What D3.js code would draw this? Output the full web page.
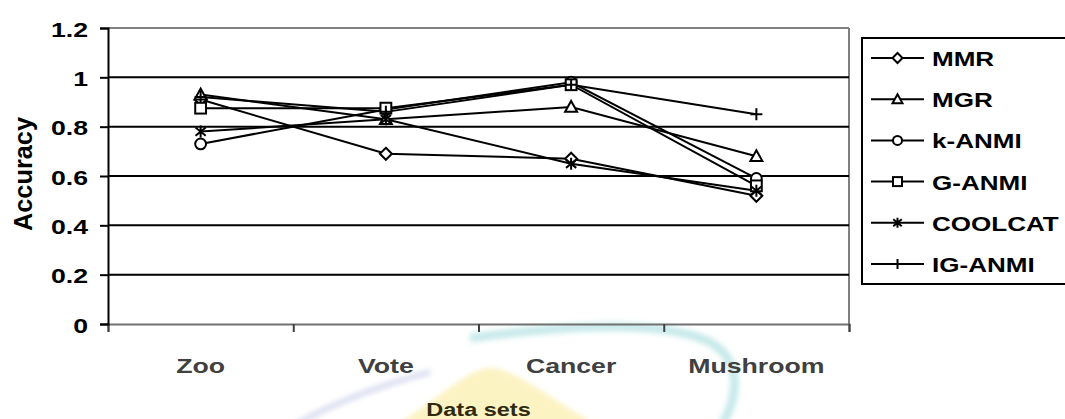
<!DOCTYPE html>
<html>
<head>
<meta charset="utf-8">
<script src="https://cdn.jsdelivr.net/npm/d3@7"></script>
<style>
  html, body { margin: 0; padding: 0; background: #fff; }
  svg { display: block; }
  text { font-family: Arial, "Liberation Sans", Helvetica, sans-serif; font-weight: bold; }
</style>
</head>
<body>
<svg id="chart" width="1065" height="419"></svg>
<script>
// Data sets and clustering accuracy per method
const categories = ["Zoo", "Vote", "Cancer", "Mushroom"];
const seriesNames = ["MMR", "MGR", "k-ANMI", "G-ANMI", "COOLCAT", "IG-ANMI"];
const mmr     = [0.91, 0.69, 0.67, 0.52];
const mgr     = [0.93, 0.83, 0.88, 0.68];
const kAnmi   = [0.73, 0.87, 0.98, 0.59];
const gAnmi   = [0.875, 0.875, 0.97, 0.56];
const coolcat = [0.78, 0.83, 0.65, 0.54];
const igAnmi  = [0.92, 0.86, 0.97, 0.85];
const yTicks = [0, 0.2, 0.4, 0.6, 0.8, 1, 1.2];
const yTickLabels = ["0", "0.2", "0.4", "0.6", "0.8", "1", "1.2"];
const markerTypes = ["diamond", "triangle", "circle", "square", "star", "plus"];

const seriesValues = [mmr, mgr, kAnmi, gAnmi, coolcat, igAnmi];
const series = seriesNames.map((name, i) => ({ name, values: seriesValues[i], marker: markerTypes[i] }));

const svg = d3.select("#chart");
const SX = 1.27; // horizontal stretch of lettering

const plotLeft = 108, plotRight = 849, plotTop = 28, plotBottom = 324;

const x = d3.scaleBand().domain(categories).range([plotLeft, plotRight]);
const y = d3.scaleLinear().domain([0, 1.2]).range([plotBottom, plotTop]);
const cx = c => x(c) + x.bandwidth() / 2;

// faint background swooshes
const defs = svg.append("defs");
defs.append("filter").attr("id", "soft")
  .append("feGaussianBlur").attr("stdDeviation", 2.5);
const deco = svg.append("g").attr("filter", "url(#soft)");
deco.append("path")
  .attr("d", "M392,428 C440,398 468,368 490,368 C515,368 552,400 602,428 Z")
  .attr("fill", "#fbf1b8").attr("opacity", 0.85);
deco.append("path")
  .attr("d", "M470,338 C560,326 650,320 700,338 C740,352 742,390 722,425")
  .attr("fill", "none").attr("stroke", "#bfe6e8").attr("stroke-width", 9).attr("opacity", 0.85);
deco.append("path")
  .attr("d", "M295,425 C330,405 370,388 430,372")
  .attr("fill", "none").attr("stroke", "#d4d8ee").attr("stroke-width", 6).attr("opacity", 0.8);

// plot frame: top and right edges in grey
svg.append("line").attr("x1", plotLeft).attr("x2", plotRight).attr("y1", y(1.2)).attr("y2", y(1.2))
  .attr("stroke", "#808080").attr("stroke-width", 2);
svg.append("line").attr("x1", plotRight).attr("x2", plotRight).attr("y1", y(1.2)).attr("y2", y(0))
  .attr("stroke", "#808080").attr("stroke-width", 2);

// horizontal gridlines
svg.append("g").selectAll("line")
  .data(yTicks.filter(v => v > 0 && v < 1.2))
  .join("line")
  .attr("x1", plotLeft).attr("x2", plotRight)
  .attr("y1", d => y(d)).attr("y2", d => y(d))
  .attr("stroke", "#000").attr("stroke-width", 2);

// x axis
const xAxis = d3.axisBottom(d3.scaleLinear().domain([0, 4]).range([plotLeft, plotRight]))
  .tickValues([0, 1, 2, 3, 4]).tickSize(8).tickFormat("");
const gx = svg.append("g").attr("transform", `translate(0,${plotBottom})`).call(xAxis);
gx.select(".domain").attr("stroke", "#707070").attr("stroke-width", 2);
gx.selectAll(".tick line").attr("stroke", "#404040").attr("stroke-width", 2);

svg.append("g").selectAll("text")
  .data(categories)
  .join("text")
  .attr("transform", d => `translate(${cx(d)},373) scale(${SX},1)`)
  .attr("text-anchor", "middle")
  .attr("font-size", 21)
  .attr("fill", "#404040")
  .text(d => d);

// y axis
const yAxis = d3.axisLeft(y).tickValues(yTicks).tickSize(8)
  .tickFormat((d, i) => yTickLabels[i]);
const gy = svg.append("g").attr("transform", `translate(${plotLeft},0)`).call(yAxis);
gy.select(".domain").attr("stroke", "#000").attr("stroke-width", 2);
gy.selectAll(".tick line").attr("stroke", "#000").attr("stroke-width", 2);
gy.selectAll(".tick text")
  .attr("x", 0).attr("dy", null).attr("y", 0)
  .attr("transform", `translate(-20,8) scale(${SX},1)`)
  .attr("text-anchor", "end")
  .attr("font-size", 21)
  .attr("font-family", "Arial, 'Liberation Sans', sans-serif")
  .attr("font-weight", "bold")
  .attr("fill", "#000");

// axis titles
svg.append("text")
  .attr("transform", "translate(32,174) rotate(-90)")
  .attr("text-anchor", "middle")
  .attr("font-size", 25)
  .attr("fill", "#000")
  .attr("textLength", 114)
  .attr("lengthAdjust", "spacingAndGlyphs")
  .text("Accuracy");

svg.append("text")
  .attr("transform", `translate(${(plotLeft + plotRight) / 2},416) scale(${SX},1)`)
  .attr("text-anchor", "middle")
  .attr("font-size", 18.5)
  .attr("fill", "#2e2a10")
  .text("Data sets");

// marker shapes
function drawMarker(g, type, px, py, s) {
  const st = { stroke: "#000", "stroke-width": 2, fill: "#fff" };
  const apply = sel => { Object.entries(st).forEach(([k, v]) => sel.attr(k, v)); return sel; };
  switch (type) {
    case "diamond":
      apply(g.append("path").attr("d", `M${px},${py - s}L${px + s},${py}L${px},${py + s}L${px - s},${py}Z`));
      break;
    case "triangle":
      apply(g.append("path").attr("d", `M${px},${py - s}L${px + s},${py + s * 0.8}L${px - s},${py + s * 0.8}Z`));
      break;
    case "circle":
      apply(g.append("circle").attr("cx", px).attr("cy", py).attr("r", s * 0.9));
      break;
    case "square":
      apply(g.append("rect").attr("x", px - s * 0.9).attr("y", py - s * 0.9)
        .attr("width", s * 1.8).attr("height", s * 1.8));
      break;
    case "star":
      g.append("path")
        .attr("d", `M${px},${py - s}L${px},${py + s}M${px - s * 0.85},${py - s * 0.7}L${px + s * 0.85},${py + s * 0.7}M${px - s * 0.85},${py + s * 0.7}L${px + s * 0.85},${py - s * 0.7}`)
        .attr("stroke", "#000").attr("stroke-width", 2).attr("fill", "none");
      break;
    case "plus":
      g.append("path")
        .attr("d", `M${px},${py - s}L${px},${py + s}M${px - s},${py}L${px + s},${py}`)
        .attr("stroke", "#000").attr("stroke-width", 2).attr("fill", "none");
      break;
  }
}

// series lines and markers
const line = d3.line().x((d, i) => cx(categories[i])).y(d => y(d));
const gs = svg.append("g");
series.forEach(s => {
  gs.append("path").datum(s.values).attr("d", line)
    .attr("fill", "none").attr("stroke", "#000").attr("stroke-width", 2);
});
series.forEach(s => {
  const g = gs.append("g");
  s.values.forEach((v, i) => drawMarker(g, s.marker, cx(categories[i]), y(v), 6));
});

// legend
const legend = svg.append("g");
legend.append("rect").attr("x", 862).attr("y", 38).attr("width", 220).attr("height", 246)
  .attr("fill", "#fff").attr("stroke", "#000").attr("stroke-width", 2);
const rowY = d3.scalePoint().domain(seriesNames).range([58, 264]);
series.forEach(s => {
  const ly = rowY(s.name);
  const g = legend.append("g");
  g.append("line").attr("x1", 871).attr("x2", 924).attr("y1", ly).attr("y2", ly)
    .attr("stroke", "#000").attr("stroke-width", 2);
  drawMarker(g, s.marker, 897.5, ly, 5);
  g.append("text")
    .attr("transform", `translate(932,${ly + 8}) scale(${SX},1)`)
    .attr("font-size", 20.5)
    .attr("fill", "#000")
    .text(s.name);
});
</script>
</body>
</html>
